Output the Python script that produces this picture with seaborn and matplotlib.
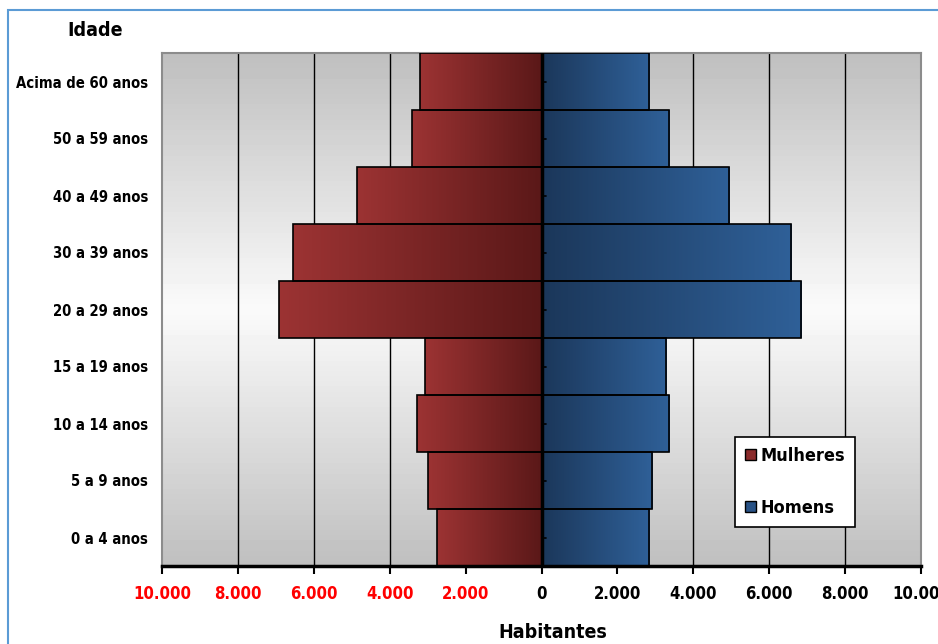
import numpy as np
import pandas as pd
import matplotlib
matplotlib.use("Agg")
import matplotlib.pyplot as plt
import matplotlib.patches as mpatches
from matplotlib.colors import LinearSegmentedColormap
import seaborn as sns

# faixas etarias, de cima para baixo
idades = ['Acima de 60 anos', '50 a 59 anos', '40 a 49 anos', '30 a 39 anos',
          '20 a 29 anos', '15 a 19 anos', '10 a 14 anos', '5 a 9 anos', '0 a 4 anos']
mulheres = [3200, 3400, 4870, 6560, 6910, 3080, 3290, 2980, 2760]
homens = [2830, 3370, 4950, 6570, 6850, 3270, 3350, 2900, 2830]
xticks = [-10000, -8000, -6000, -4000, -2000, 0, 2000, 4000, 6000, 8000, 10000]

sns.set_style("white")
plt.rcParams['font.family'] = ['DejaVu Sans']
plt.rcParams['font.stretch'] = 'condensed'
plt.rcParams['font.weight'] = 'bold'
plt.rcParams['text.color'] = 'black'
plt.rcParams['xtick.color'] = 'black'
plt.rcParams['ytick.color'] = 'black'

df = pd.concat([
    pd.DataFrame({'idade': idades, 'valor': [-v for v in mulheres], 'sexo': 'Mulheres'}),
    pd.DataFrame({'idade': idades, 'valor': homens, 'sexo': 'Homens'}),
])

fig = plt.figure(figsize=(9.38, 6.44), dpi=100)
ax = fig.add_axes([162/938, 1-566/644, (921-162)/938, (566-53)/644])

sns.barplot(data=df, x='valor', y='idade', hue='sexo', order=idades, dodge=False,
            width=1.0, palette={'Mulheres': '#8a2a2a', 'Homens': '#285286'},
            edgecolor='black', linewidth=1.2, legend=False, ax=ax, zorder=3)

ax.set_xlim(-10000, 10000)
ax.set_ylim(len(idades)-0.5, -0.5)

# fundo com degradê vertical
bg = np.concatenate([np.linspace(0.75, 0.98, 50), np.linspace(0.98, 0.75, 50)])[:, None]
ax.imshow(bg, cmap='gray', vmin=0, vmax=1, aspect='auto', extent=[0, 1, 0, 1],
          transform=ax.transAxes, zorder=0)

# degradê horizontal nas barras
red = LinearSegmentedColormap.from_list('r', ['#9c3333', '#5a1818'])
blue = LinearSegmentedColormap.from_list('b', ['#1b375a', '#2f6098'])
grad = np.linspace(0, 1, 256)[None, :]
for p in ax.patches:
    x0, y0 = p.get_x(), p.get_y()
    w, h = p.get_width(), p.get_height()
    if w == 0:
        continue
    cmap = red if x0 < 0 or w < 0 else blue
    left, right = min(x0, x0 + w), max(x0, x0 + w)
    im = ax.imshow(grad, cmap=cmap, aspect='auto', extent=[left, right, y0 + h, y0],
                   zorder=3, interpolation='bicubic')
    im.set_clip_path(p)
    p.set_facecolor('none')
    p.set_zorder(4)

ax.set_xlim(-10000, 10000)
ax.set_ylim(len(idades)-0.5, -0.5)

for x in xticks[1:-1]:
    if x != 0:
        ax.axvline(x, color='black', lw=1, zorder=1)
ax.axvline(0, color='black', lw=2.5, zorder=5)
for y in range(len(idades)):
    ax.plot([0, 110], [y, y], color='black', lw=1.2, zorder=5)

ax.set_xticks(xticks)
ax.set_xticklabels([f"{abs(v):,}".replace(",", ".") for v in xticks], fontsize=12, fontweight='bold')
for lbl, v in zip(ax.get_xticklabels(), xticks):
    lbl.set_color('red' if v < 0 else 'black')
ax.tick_params(axis='x', length=6, width=1.5, color='black', direction='out', bottom=True, pad=8)
ax.tick_params(axis='y', length=0, labelsize=10.6, pad=10)
for lbl in ax.get_yticklabels():
    lbl.set_fontweight('bold')

for s in ['top', 'left', 'right']:
    ax.spines[s].set_color('#8c8c8c')
    ax.spines[s].set_linewidth(1.5)
ax.spines['bottom'].set_color('black')
ax.spines['bottom'].set_linewidth(2.5)
ax.spines['bottom'].set_zorder(6)

ax.set_xlabel('')
ax.set_ylabel('')

fig.text(95/938, 1-30/644, 'Idade', ha='center', va='center', fontsize=14, fontweight='bold')
fig.text(553/938, 1-632/644, 'Habitantes', ha='center', va='center', fontsize=14, fontweight='bold')

handles = [mpatches.Patch(facecolor='#8a2a2a', edgecolor='black', label='Mulheres'),
           mpatches.Patch(facecolor='#285286', edgecolor='black', label='Homens')]
leg = ax.legend(handles=handles, loc='lower left', bbox_to_anchor=(0.755, 0.076),
                borderaxespad=0, fancybox=False, framealpha=1, edgecolor='black',
                labelspacing=1.9, handlelength=0.6, handleheight=0.6, handletextpad=0.25,
                borderpad=0.55, prop={'size': 13, 'weight': 'bold', 'stretch': 'condensed'})
leg.get_frame().set_linewidth(1.2)
leg.set_zorder(10)

fig.patches.append(mpatches.Rectangle((8/938, -0.02), 1, 1-10/644+0.02, transform=fig.transFigure,
                                      fill=False, edgecolor='#5b9bd5', lw=1.5))

fig.savefig('out.png', dpi=100)
